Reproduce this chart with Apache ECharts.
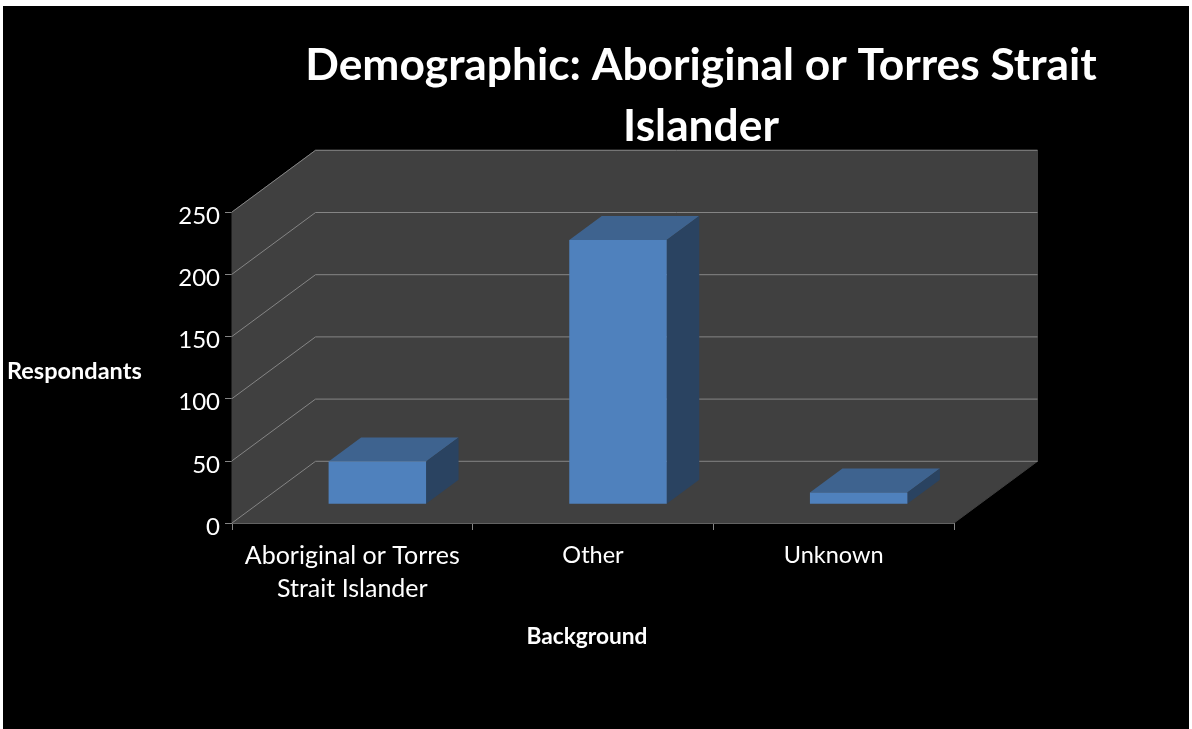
<!DOCTYPE html>
<html>
<head>
<meta charset="utf-8">
<style>
html,body{margin:0;padding:0;background:#fff;width:1192px;height:729px;overflow:hidden}
#chart{position:absolute;left:3px;top:6px;width:1186px;height:723px}
</style>
<script src="https://cdn.jsdelivr.net/npm/echarts@6/dist/echarts.min.js"></script>
</head>
<body>
<div id="chart"></div>
<script>
const chartTitle = 'Demographic: Aboriginal or Torres Strait\nIslander';
const categories = ['Aboriginal or Torres\nStrait Islander', 'Other', 'Unknown'];
const respondants = [34, 212, 9];
const yTicks = [0, 50, 100, 150, 200, 250];
const yName = 'Respondants';
const xName = 'Background';

const FONT = 'Lato';
const WALL_DX = 83.5, WALL_DY = -61.7; // oblique offset of the back wall
const GAP_DX = 25, GAP_DY = -19.3;     // bar front face behind the front edge
const BAR_DX = 32.5, BAR_DY = -24;     // bar depth
const BAR_W = 0.405;

const chart = echarts.init(document.getElementById('chart'), null, {renderer: 'canvas'});

function wallItem(params) {
  const c = params.coordSys;
  const l = c.x, r = c.x + c.width, t = c.y, b = c.y + c.height;
  const style = {fill: '#404040', stroke: '#404040', lineWidth: 1};
  return {type: 'group', children: [
    {type: 'polygon', shape: {points: [[l, b], [l, t], [l + WALL_DX, t + WALL_DY], [l + WALL_DX, b + WALL_DY]]}, style},
    {type: 'polygon', shape: {points: [[l + WALL_DX, t + WALL_DY], [r + WALL_DX, t + WALL_DY], [r + WALL_DX, b + WALL_DY], [l + WALL_DX, b + WALL_DY]]}, style},
    {type: 'polygon', shape: {points: [[l, b], [r, b], [r + WALL_DX, b + WALL_DY], [l + WALL_DX, b + WALL_DY]]}, style}
  ]};
}

function gridItem(params, api) {
  const c = params.coordSys;
  const y = api.coord([0, api.value(1)])[1];
  const l = c.x, r = c.x + c.width;
  return {type: 'polyline', shape: {points: [[l, y], [l + WALL_DX, y + WALL_DY], [r + WALL_DX, y + WALL_DY]]},
    style: {stroke: '#858585', lineWidth: 1, fill: 'none'}};
}

function barItem(params, api) {
  const i = api.value(0), v = api.value(1);
  const top = api.coord([i, v]);
  const base = api.coord([i, 0]);
  const w = api.size([1, 0])[0] * BAR_W;
  const x0 = top[0] - w / 2 + GAP_DX, x1 = x0 + w;
  const yT = top[1] + GAP_DY, yB = base[1] + GAP_DY;
  return {type: 'group', children: [
    {type: 'polygon', shape: {points: [[x0, yT], [x1, yT], [x1 + BAR_DX, yT + BAR_DY], [x0 + BAR_DX, yT + BAR_DY]]}, style: {fill: '#3E638F'}},
    {type: 'polygon', shape: {points: [[x1, yT], [x1 + BAR_DX, yT + BAR_DY], [x1 + BAR_DX, yB + BAR_DY], [x1, yB]]}, style: {fill: '#2A4361'}},
    {type: 'rect', shape: {x: x0, y: yT, width: w, height: yB - yT}, style: {fill: '#4F81BD'}}
  ]};
}

chart.setOption({
  backgroundColor: '#000',
  animation: false,
  title: {
    text: chartTitle, left: 693, top: 24, textAlign: 'center',
    textStyle: {color: '#fff', fontFamily: FONT, fontWeight: 'bold', fontSize: 44.3, lineHeight: 61}
  },
  grid: {left: 229, top: 206, width: 722, height: 311, containLabel: false},
  xAxis: {
    type: 'category',
    data: categories.map((c, i) => ({value: c, textStyle: {fontSize: i === 0 ? 25 : 23.5}})),
    name: xName, nameLocation: 'middle', nameGap: 102,
    nameTextStyle: {color: '#fff', fontFamily: FONT, fontWeight: 'bold', fontSize: 22.7, padding: [0, 12, 0, 0]},
    axisLine: {show: true, lineStyle: {color: '#858585', width: 1}},
    axisTick: {show: true, length: 7, alignWithLabel: false, lineStyle: {color: '#858585'}},
    axisLabel: {interval: 0, color: '#fff', fontFamily: FONT, fontSize: 25, lineHeight: 33, margin: 16},
    splitLine: {show: false}
  },
  yAxis: {
    type: 'value', min: 0, max: 250, interval: 50,
    name: yName, nameLocation: 'middle', nameRotate: 0, nameGap: 225,
    nameTextStyle: {color: '#fff', fontFamily: FONT, fontWeight: 'bold', fontSize: 23.5, align: 'left', verticalAlign: 'top', lineHeight: 7},
    axisLine: {show: true, lineStyle: {color: '#858585', width: 1}},
    axisTick: {show: true, length: 7, lineStyle: {color: '#858585'}},
    axisLabel: {color: '#fff', fontFamily: FONT, fontSize: 24, margin: 12, verticalAlign: 'top', lineHeight: 8},
    splitLine: {show: false}
  },
  series: [
    {type: 'custom', name: 'walls', z: 1, silent: true, clip: false, renderItem: wallItem,
     data: [[0, 0]], encode: {x: 0, y: 1}},
    {type: 'custom', name: 'gridlines', z: 2, silent: true, clip: false, renderItem: gridItem,
     data: yTicks.map(v => [0, v]), encode: {x: 0, y: 1}},
    {type: 'custom', name: yName, z: 3, clip: false, renderItem: barItem,
     data: respondants.map((v, i) => [i, v]), encode: {x: 0, y: 1}}
  ]
});
</script>
</body>
</html>
